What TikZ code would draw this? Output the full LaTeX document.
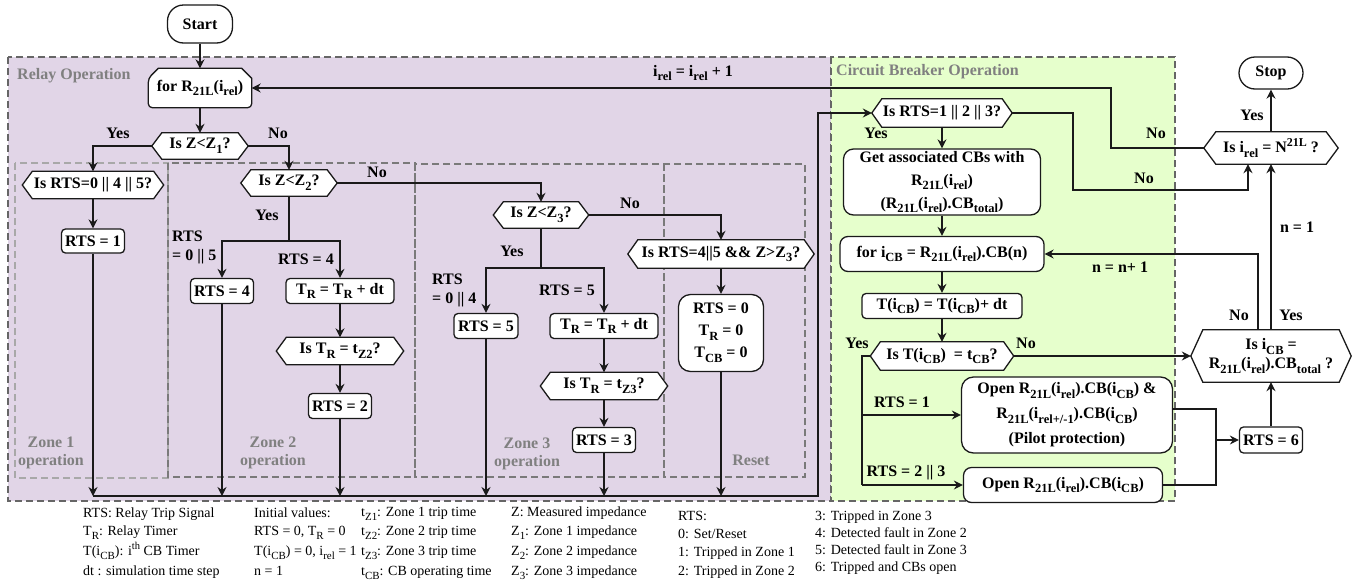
\documentclass[tikz,border=0pt]{standalone}
\usepackage{fontspec}
\setmainfont{Liberation Serif}
\usetikzlibrary{arrows.meta,calc}
\pgfdeclarelayer{back}
\pgfdeclarelayer{shapes}
\pgfsetlayers{back,shapes,main}

\definecolor{relayfill}{HTML}{E1D5E7}
\definecolor{cbfill}{HTML}{E6FFCC}
\definecolor{regiongrey}{HTML}{666666}
\definecolor{zonegrey}{HTML}{7A7A7A}
\definecolor{zonelight}{HTML}{A8A8A8}
\definecolor{titlegrey}{HTML}{808080}
\definecolor{ink}{HTML}{1A1A1A}

\makeatletter
% lowered / raised indices scaled from the surrounding font size
\newcommand\sub[1]{\raisebox{-0.3em}{\fontsize{\the\dimexpr 0.78\dimexpr\f@size pt\relax\relax}{1pt}\selectfont #1}}
\newcommand\supr[1]{\raisebox{0.42em}{\fontsize{\the\dimexpr 0.75\dimexpr\f@size pt\relax\relax}{1pt}\selectfont #1}}
\makeatother

\newcommand\nodefont{\fontsize{16}{19}\selectfont\bfseries}
\newcommand\legfont{\fontsize{14}{17}\selectfont}

\tikzset{
  nodeline/.style={draw=ink, line width=1.3pt},
  rbox/.style={nodeline, fill=white, rounded corners=4pt, inner sep=0pt, font=\nodefont, align=center},
  hexin/.style={inner sep=0pt, font=\nodefont, align=center},
  arr/.style={line width=1.3pt, draw=ink, -{Stealth[length=9pt,width=9pt,inset=3pt]}},
  conn/.style={line width=1.3pt, draw=ink},
  lbl/.style={font=\nodefont, inner sep=0pt},
  region/.style={draw=regiongrey, dash pattern=on 7pt off 4pt, line width=1.6pt},
  zone/.style={draw=zonegrey, dash pattern=on 7pt off 4pt, line width=1.4pt},
  regtitle/.style={font=\fontsize{16}{18}\selectfont\bfseries, text=titlegrey, inner sep=0pt},
  leg/.style={font=\legfont, inner sep=0pt, anchor=base west},
}

% decision hexagon: [point depth]{name}{x}{y}{total width}{height}{text}
\newcommand\hexa[7][10]{%
  \node[hexin, minimum width={#5-2*#1}, minimum height=#6] (#2) at (#3,#4) {#7};
  \coordinate (#2-w) at ([xshift=-#1pt]#2.west);
  \coordinate (#2-e) at ([xshift=#1pt]#2.east);
  \begin{pgfonlayer}{shapes}
    \draw[nodeline, fill=white] (#2-w) -- (#2.north west) -- (#2.north east) -- (#2-e)
      -- (#2.south east) -- (#2.south west) -- cycle;
  \end{pgfonlayer}}

\begin{document}
\begin{tikzpicture}[x=1pt,y=-1pt]
\useasboundingbox (0,0) rectangle (1364,584);

% ---------- operation areas ----------
\begin{pgfonlayer}{back}
  \fill[white] (0,0) rectangle (1364,584);
  \filldraw[region, fill=relayfill] (8,57) rectangle (831,501);
  \filldraw[region, fill=cbfill] (831,57) rectangle (1175,501);
  \draw[zone, draw=zonelight] (15,163) rectangle (168,478);
  \draw[zone] (168,163) rectangle (415,477);
  \draw[zone] (415,164) rectangle (664,477);
  \draw[zone] (664,164) rectangle (805,477);
\end{pgfonlayer}

\node[regtitle, anchor=west] (reltitle) at (17,76) {Relay Operation};
\node[regtitle, anchor=west] (cbtitle) at (836,72) {Circuit Breaker Operation};
\node[regtitle, align=center] (z1lab) at (51,453) {Zone 1\\operation};
\node[regtitle, align=center] (z2lab) at (273,453) {Zone 2\\operation};
\node[regtitle, align=center] (z3lab) at (527,454) {Zone 3\\operation};
\node[regtitle] (rslab) at (751,460) {Reset};

% ---------- relay nodes ----------
\node[rbox, rounded corners=16pt, minimum width=65, minimum height=38] (start) at (200,24) {Start};

\node[hexin, minimum width=103, minimum height=39] (forrel) at (200,88) {for R\sub{21L}(i\sub{rel})};
\begin{pgfonlayer}{shapes}
  \draw[nodeline, fill=white] ([yshift=-10pt]forrel.north west) -- ([xshift=10pt]forrel.north west)
    -- ([xshift=-10pt]forrel.north east) -- ([yshift=-10pt]forrel.north east)
    [rounded corners=4pt] -- (forrel.south east) -- (forrel.south west) -- cycle;
\end{pgfonlayer}

\hexa{isz1}{200}{146}{96}{26}{Is Z<Z\sub{1}?}
\hexa{isrts045}{93}{185}{141}{27}{Is RTS=0 || 4 || 5?}
\node[rbox, minimum width=63, minimum height=24] (rts1) at (93,241) {RTS = 1};

\hexa{isz2}{289}{183}{96}{26}{Is Z<Z\sub{2}?}
\node[rbox, minimum width=63, minimum height=25] (rts4) at (222,291) {RTS = 4};
\node[rbox, minimum width=108, minimum height=25] (tr2) at (340,291) {T\sub{R} = T\sub{R} + dt};
\hexa{istz2}{340}{351}{127}{27}{Is T\sub{R} = t\sub{Z2}?}
\node[rbox, minimum width=63, minimum height=25] (rts2) at (340,406) {RTS = 2};

\hexa{isz3}{541}{215}{95}{26}{Is Z<Z\sub{3}?}
\node[rbox, minimum width=64, minimum height=25] (rts5) at (486,326) {RTS = 5};
\node[rbox, minimum width=108, minimum height=25] (tr3) at (604,326) {T\sub{R} = T\sub{R} + dt};
\hexa{istz3}{604}{386}{127}{27}{Is T\sub{R} = t\sub{Z3}?}
\node[rbox, minimum width=63, minimum height=25] (rts3) at (604,440) {RTS = 3};

\hexa{isrts45}{721}{254}{186}{28}{Is RTS=4||5 \&\& Z>Z\sub{3}?}
\node[rbox, rounded corners=12pt, minimum width=85, minimum height=77,
      font=\fontsize{16}{22}\selectfont\bfseries] (reset) at (721,333)
      {RTS = 0\\T\sub{R} = 0\\T\sub{CB} = 0};

% ---------- circuit breaker nodes ----------
\hexa{rts123}{942}{113}{140}{28}{Is RTS=1 || 2 || 3?}
\node[rbox, rounded corners=10pt, minimum width=197, minimum height=66,
      font=\fontsize{16}{23}\selectfont\bfseries] (getcb) at (942,182)
      {Get associated CBs with\\R\sub{21L}(i\sub{rel})\\(R\sub{21L}(i\sub{rel}).CB\sub{total})};
\node[rbox, rounded corners=8pt, minimum width=204, minimum height=35] (forcb) at (942,254)
      {for i\sub{CB} = R\sub{21L}(i\sub{rel}).CB(n)};
\node[rbox, minimum width=160, minimum height=25] (tcb) at (942,306)
      {T(i\sub{CB}) = T(i\sub{CB})+ dt};
\hexa{istcb}{942}{356}{143}{28}{Is T(i\sub{CB})\ \ = t\sub{CB}?}
\node[rbox, rounded corners=12pt, minimum width=211, minimum height=76,
      font=\fontsize{16}{25}\selectfont\bfseries] (open1) at (1067,415)
      {Open R\sub{21L}(i\sub{rel}).CB(i\sub{CB}) \&\\R\sub{21L}(i\sub{rel+/-1}).CB(i\sub{CB})\\(Pilot protection)};
\node[rbox, rounded corners=8pt, minimum width=199, minimum height=35] (open2) at (1063,485)
      {Open R\sub{21L}(i\sub{rel}).CB(i\sub{CB})};
\node[rbox, minimum width=63, minimum height=26] (rts6) at (1271,440) {RTS = 6};
\hexa[12]{isicb}{1271}{356}{160}{52}{Is i\sub{CB} =\\R\sub{21L}(i\sub{rel}).CB\sub{total} ?}
\hexa[12]{isnrel}{1271}{148}{134}{32}{Is i\sub{rel} = N\supr{21L} ?}
\node[rbox, rounded corners=16pt, minimum width=64, minimum height=32] (stop) at (1271,73) {Stop};

% ---------- helper points ----------
\coordinate (sp2) at (289,241);
\coordinate (sp3) at (541,268);
\coordinate (busL) at (93,496);
\coordinate (busR) at (818,496);
\coordinate (loopc) at (1111,88);
\coordinate (nobend) at (1073,190);
\coordinate (ybr) at (862,415);
\coordinate (ybot) at (862,485);
\coordinate (mj) at (1216,440);

% ---------- relay connectors ----------
\draw[arr] (start) -- (forrel);
\draw[arr] (forrel) -- (isz1);
\draw[arr] (isz1-w) -| (isrts045.north);
\draw[arr] (isz1-e) -| (isz2.north);
\draw[arr] (isrts045) -- (rts1);
\draw[conn] (isz2.south) -- (sp2);
\draw[arr] (sp2) -| (rts4.north);
\draw[arr] (sp2) -| (tr2.north);
\draw[arr] (tr2) -- (istz2);
\draw[arr] (istz2) -- (rts2);
\draw[arr] (isz2-e) -| (isz3.north);
\draw[conn] (isz3.south) -- (sp3);
\draw[arr] (sp3) -| (rts5.north);
\draw[arr] (sp3) -| (tr3.north);
\draw[arr] (tr3) -- (istz3);
\draw[arr] (istz3) -- (rts3);
\draw[arr] (isz3-e) -| (isrts45.north);
\draw[arr] (isrts45) -- (reset);
\foreach \n in {rts1,rts4,rts2,rts5,rts3,reset}
  \draw[arr] (\n.south) -- (\n.south |- busL);
\draw[arr] (busL) -- (busR) |- (rts123-w);

% ---------- circuit breaker connectors ----------
\draw[arr] (rts123) -- (getcb);
\draw[arr] (getcb) -- (forcb);
\draw[arr] (forcb) -- (tcb);
\draw[arr] (tcb) -- (istcb);
\draw[arr] (rts123-e) -| (nobend) -| ([xshift=-23pt]isnrel.south);
\draw[arr] (isnrel-w) -| (loopc) |- (forrel.east);
\draw[arr] (isnrel) -- (stop);
\draw[conn] (istcb-w) -| (ybot);
\draw[arr] (ybot) -- (open2.west);
\draw[arr] (ybr) -- (open1.west);
\draw[arr] (istcb-e) -- (isicb-w);
\draw[conn] ([yshift=6pt]open1.east) -| (mj);
\draw[conn] (open2.east) -| (mj);
\draw[arr] (mj) -- (rts6.west);
\draw[arr] (rts6) -- (isicb);
\draw[arr] ([xshift=-13pt]isicb.north) |- (forcb.east);
\draw[arr] (isicb.north) -- (isnrel.south);

% ---------- connector labels ----------
\node[lbl] (l1) at (118,133) {Yes};
\node[lbl] (l2) at (278,133) {No};
\node[lbl] (l3) at (377,172) {No};
\node[lbl] (l4) at (267,215) {Yes};
\node[lbl, align=left, anchor=west] (l5) at (172,247) {RTS\\= 0 || 5};
\node[lbl] (l6) at (306,259) {RTS = 4};
\node[lbl] (l7) at (630,203) {No};
\node[lbl] (l8) at (512,251) {Yes};
\node[lbl, align=left, anchor=west] (l9) at (432,290) {RTS\\= 0 || 4};
\node[lbl] (l10) at (567,290) {RTS = 5};
\node[lbl] (l11) at (693,73) {i\sub{rel} = i\sub{rel} + 1};
\node[lbl] (l12) at (876,133) {Yes};
\node[lbl] (l13) at (1156,133) {No};
\node[lbl] (l14) at (1144,178) {No};
\node[lbl] (l15) at (1252,115) {Yes};
\node[lbl] (l16) at (1297,227) {n = 1};
\node[lbl] (l17) at (1120,267) {n = n+ 1};
\node[lbl] (l18) at (1239,315) {No};
\node[lbl] (l19) at (1291,315) {Yes};
\node[lbl] (l20) at (857,343) {Yes};
\node[lbl] (l21) at (1026,343) {No};
\node[lbl] (l22) at (902,402) {RTS = 1};
\node[lbl] (l23) at (906,473) {RTS = 2 || 3};

% ---------- legend ----------
\node[leg] (g11) at (83,517) {RTS: Relay Trip Signal};
\node[leg] (g12) at (83,535) {T\sub{R}: Relay Timer};
\node[leg] (g13) at (83,555) {T(i\sub{CB}): i\supr{th} CB Timer};
\node[leg] (g14) at (83,575) {dt : simulation time step};

\node[leg] (g21) at (254,517) {Initial values:};
\node[leg] (g22) at (254,535) {RTS = 0, T\sub{R} = 0};
\node[leg] (g23) at (254,555) {T(i\sub{CB}) = 0, i\sub{rel} = 1};
\node[leg] (g24) at (254,575) {n = 1};

\node[leg] (g31) at (361,516) {t\sub{Z1}: Zone 1 trip time};
\node[leg] (g32) at (361,535) {t\sub{Z2}: Zone 2 trip time};
\node[leg] (g33) at (361,555) {t\sub{Z3}: Zone 3 trip time};
\node[leg] (g34) at (361,575) {t\sub{CB}: CB operating time};

\node[leg] (g41) at (511,516) {Z: Measured impedance};
\node[leg] (g42) at (511,535) {Z\sub{1}: Zone 1 impedance};
\node[leg] (g43) at (511,555) {Z\sub{2}: Zone 2 impedance};
\node[leg] (g44) at (511,575) {Z\sub{3}: Zone 3 impedance};

\node[leg] (g51) at (678,520) {RTS:};
\node[leg] (g52) at (678,538) {0: Set/Reset};
\node[leg] (g53) at (678,556) {1: Tripped in Zone 1};
\node[leg] (g54) at (678,575) {2: Tripped in Zone 2};

\node[leg] (g61) at (815,520) {3: Tripped in Zone 3};
\node[leg] (g62) at (815,537) {4: Detected fault in Zone 2};
\node[leg] (g63) at (815,554) {5: Detected fault in Zone 3};
\node[leg] (g64) at (815,571) {6: Tripped and CBs open};
\end{tikzpicture}
\end{document}
